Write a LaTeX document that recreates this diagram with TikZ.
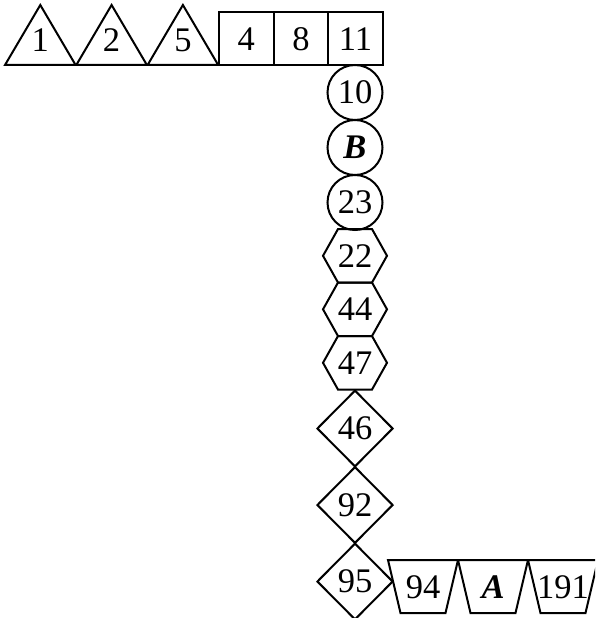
\documentclass[tikz,border=0pt]{standalone}
\usepackage{fontspec}
\setmainfont{Liberation Serif}
\usetikzlibrary{shapes.geometric}

\begin{document}
\begin{tikzpicture}[x=1pt,y=-1pt,line width=2pt,
  lbl/.style={font=\fontsize{34.5}{38}\selectfont,inner sep=0pt},
  ring/.style={lbl,draw,circle,minimum size=55pt},
  kite/.style={lbl,draw,diamond,minimum width=76pt,minimum height=76.6pt}]
\clip (0,0) rectangle (595,618);
% top row: triangles, then squares
\foreach \t/\x in {1/5,2/76.3,5/147.6} {
  \draw (\x,65) -- ++(35.3,-60) -- ++(35.3,60) -- cycle;
  \node[lbl] (tri\t) at (\x+35.3,40) {\t};
}
\foreach \t/\x in {4/219,8/273.7,11/328.3} {
  \draw (\x,12) rectangle ++(54.7,53);
  \node[lbl] (sq\t) at (\x+27.3,39) {\t};
}
% column
\node[ring] (c10) at (355,92.5) {10};
\node[ring] (cB) at (355,147.5) {\textbf{\textit{B}}};
\node[ring] (c23) at (355,202.5) {23};
\foreach \t/\y in {22/255.8,44/309.3,47/362.8} {
  \draw (355-32,\y) -- (355-17,\y-26.75) -- (355+17,\y-26.75)
    -- (355+32,\y) -- (355+17,\y+26.75) -- (355-17,\y+26.75) -- cycle;
  \node[lbl] (hx\t) at (355,\y) {\t};
}
\node[kite] (d46) at (355,428.5) {46};
\node[kite] (d92) at (355,505) {92};
\node[kite] (d95) at (355,581.5) {95};
% bottom row
\foreach \nm/\t/\x in {94/94/388,A/\textbf{\textit{A}}/458,191/191/528} {
  \draw (\x,560) -- (\x+70,560) -- (\x+57.5,613) -- (\x+12.5,613) -- cycle;
  \node[lbl] (tr\nm) at (\x+35,587) {\t};
}
\end{tikzpicture}
\end{document}
